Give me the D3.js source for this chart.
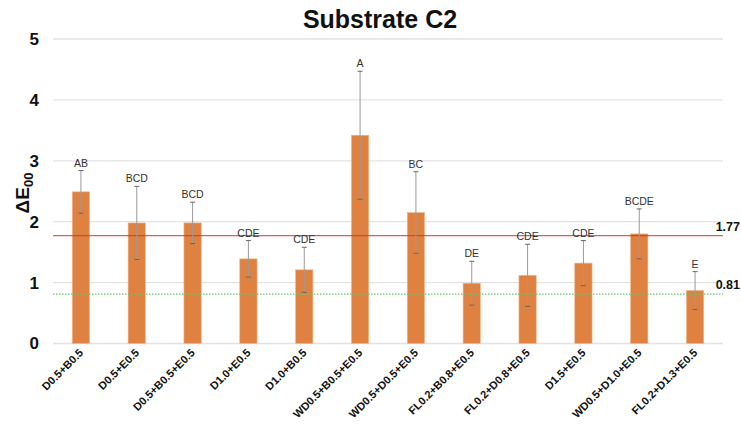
<!DOCTYPE html>
<html><head><meta charset="utf-8">
<script src="https://cdn.jsdelivr.net/npm/d3@7"></script>
<style>body{margin:0;background:#fff}svg{display:block;font-family:"Liberation Sans",Arial,sans-serif}</style>
</head><body><svg id="c" width="741" height="425"></svg>
<script>
const categories = ["D0.5+B0.5","D0.5+E0.5","D0.5+B0.5+E0.5","D1.0+E0.5","D1.0+B0.5","WD0.5+B0.5+E0.5","WD0.5+D0.5+E0.5","FL0.2+B0.8+E0.5","FL0.2+D0.8+E0.5","D1.5+E0.5","WD0.5+D1.0+E0.5","FL0.2+D1.3+E0.5"];
const means = [2.49,1.98,1.98,1.39,1.21,3.42,2.15,0.99,1.12,1.32,1.80,0.87];
const errors = [0.35,0.60,0.34,0.30,0.37,1.05,0.67,0.36,0.51,0.37,0.41,0.31];
const groups = ["AB","BCD","BCD","CDE","CDE","A","BC","DE","CDE","CDE","BCDE","E"];
const yTicks = [0,1,2,3,4,5];
const thresholdValues = [1.77,0.81];
const thresholdLabels = ["1.77","0.81"];
const title = "Substrate C2";

const svg = d3.select("#c");
const m = {l:53, r:18, t:39, b:81.5};
const W = 741, H = 425;
const x = d3.scaleBand().domain(categories).range([m.l, W - m.r]).paddingInner(0.69).paddingOuter(0.345);
const y = d3.scaleLinear().domain([0,5]).range([H - m.b, m.t]);

// gridlines
svg.append("g").selectAll("line").data(yTicks).join("line")
  .attr("x1", m.l).attr("x2", W - m.r)
  .attr("y1", d => y(d)).attr("y2", d => y(d))
  .attr("stroke", "#e3e3e3").attr("stroke-width", 1.3);

// y axis labels
const yAxis = d3.axisLeft(y).tickValues(yTicks).tickSize(0).tickPadding(14).tickFormat(d3.format("d"));
const ga = svg.append("g").attr("transform", `translate(${m.l},0)`).call(yAxis);
ga.select(".domain").remove();
ga.selectAll("text").attr("font-size", 17).attr("font-weight", "bold").attr("fill", "#111")
  .attr("font-family", "'Liberation Sans',Arial,sans-serif");

// bars
svg.append("g").selectAll("rect").data(means).join("rect")
  .attr("x", (d,i) => x(categories[i]))
  .attr("width", x.bandwidth())
  .attr("y", d => y(d))
  .attr("height", d => y(0) - y(d))
  .attr("fill", "#df8241")
  .attr("stroke", "#f0b890").attr("stroke-width", 0.6);

// threshold lines
svg.append("line").attr("x1", m.l).attr("x2", W - m.r)
  .attr("y1", y(thresholdValues[0])).attr("y2", y(thresholdValues[0]))
  .attr("stroke", "#d8312f").attr("stroke-width", 1);
svg.append("line").attr("x1", m.l).attr("x2", W - m.r)
  .attr("y1", y(thresholdValues[1])).attr("y2", y(thresholdValues[1]))
  .attr("stroke", "#6cc46a").attr("stroke-width", 1.3).attr("stroke-dasharray", "1.5,1.5");
svg.selectAll(".thl").data(thresholdValues).join("text")
  .attr("x", 740).attr("y", d => y(d) - 5)
  .attr("text-anchor", "end").attr("font-size", 12.5).attr("font-weight", "bold").attr("fill", "#111")
  .text((d,i) => thresholdLabels[i]);

// error bars
const eb = svg.append("g");
means.forEach((v,i) => {
  const cx = x(categories[i]) + x.bandwidth()/2;
  const hi = y(v + errors[i]), lo = y(v - errors[i]);
  eb.append("line").attr("x1", cx).attr("x2", cx).attr("y1", hi).attr("y2", lo)
    .attr("stroke", "#9a9a9a").attr("stroke-width", 1);
  [hi, lo].forEach(yy => eb.append("line").attr("x1", cx - 2.5).attr("x2", cx + 2.5)
    .attr("y1", yy).attr("y2", yy).attr("stroke", "#666").attr("stroke-width", 1));
  eb.append("text").attr("x", cx).attr("y", hi - 4).attr("text-anchor", "middle")
    .attr("font-size", 10.5).attr("fill", "#333").text(groups[i]);
});

// x labels
svg.append("g").selectAll("text").data(categories).join("text")
  .attr("transform", d => `translate(${x(d) + x.bandwidth()/2 + 3},${y(0) + 10}) rotate(-45)`)
  .attr("text-anchor", "end").attr("font-size", 11).attr("font-weight", "bold").attr("fill", "#111")
  .text(d => d);

// title
svg.append("text").attr("x", 380).attr("y", 28).attr("text-anchor", "middle")
  .attr("font-size", 25).attr("font-weight", "bold").attr("fill", "#111").text(title);

// y axis title
const yt = svg.append("text").attr("transform", "translate(29,193) rotate(-90)")
  .attr("text-anchor", "middle").attr("font-weight", "bold").attr("fill", "#111").attr("font-size", 19);
yt.append("tspan").text("ΔE");
yt.append("tspan").attr("font-size", 13).attr("dy", 4).text("00");
</script></body></html>
